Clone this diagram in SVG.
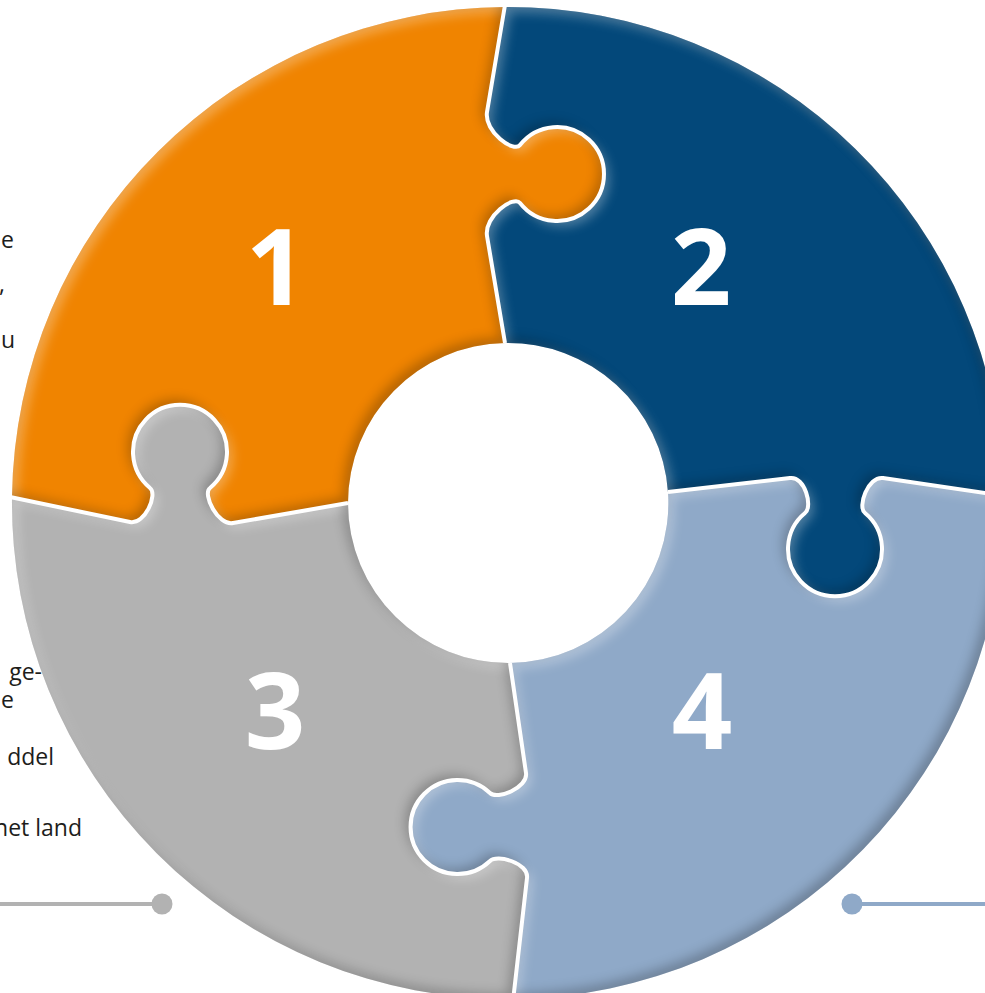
<svg xmlns="http://www.w3.org/2000/svg" width="985" height="993" viewBox="0 0 985 993">
<defs>
<style>
.num{font-family:"Open Sans","Liberation Sans",sans-serif;font-weight:700;font-size:106px;fill:#fff;text-anchor:middle}
.txt{font-family:"Open Sans","Liberation Sans",sans-serif;font-size:23px;fill:#1d1d1b;text-anchor:end}
.seam{fill:none;stroke:#fff;stroke-width:4;stroke-linejoin:round}
</style>
<filter id="bevel" x="-10%" y="-10%" width="120%" height="120%" color-interpolation-filters="sRGB">
<feGaussianBlur in="SourceAlpha" stdDeviation="6" result="blur"/>
<feOffset in="blur" dx="5" dy="5" result="o1"/>
<feComposite in="SourceAlpha" in2="o1" operator="out" result="hl"/>
<feFlood flood-color="#ffffff" flood-opacity="0.32"/>
<feComposite in2="hl" operator="in" result="hlc"/>
<feOffset in="blur" dx="-5" dy="-5" result="o2"/>
<feComposite in="SourceAlpha" in2="o2" operator="out" result="sh"/>
<feFlood flood-color="#000000" flood-opacity="0.24"/>
<feComposite in2="sh" operator="in" result="shc"/>
<feMerge><feMergeNode in="SourceGraphic"/><feMergeNode in="hlc"/><feMergeNode in="shc"/></feMerge>
</filter>
</defs>
<rect width="985" height="993" fill="#fff"/>

<g id="piece1">
<path filter="url(#bevel)" fill="#F08400" d="M12,497 A496,496 0 0 1 505,7 L487,112 C484,132 514,153 520,145 A47,47 0 1 1 520,203 C514,195 484,216 487,236 L505,343 A160,160 0 0 0 348,503 L233,523 C218,526 202,494 210,488 A47,47 0 1 0 150,488 C158,494 145,525 130,522 Z"/>
<text class="num" x="276" y="305">1</text>
</g>
<g id="piece2">
<path filter="url(#bevel)" fill="#03487A" d="M505,7 A496,496 0 0 1 1004,496 L883,478 C868,476 857,507 865,513 A47,47 0 1 1 805,513 C813,507 805,476 790,478 L668,492 A160,160 0 0 0 505,343 L487,236 C484,216 514,195 520,203 A47,47 0 1 0 520,145 C514,153 484,132 487,112 Z"/>
<text class="num" x="701" y="305">2</text>
</g>
<g id="piece4">
<path filter="url(#bevel)" fill="#8FA9C8" d="M1004,496 A496,496 0 0 1 513,999 L527,878 C529,863 497,854 490,861 A47,47 0 1 1 490,793 C497,800 528,788 526,773 L510,663 A160,160 0 0 0 668,492 L790,478 C805,476 813,507 805,513 A47,47 0 1 0 865,513 C857,507 868,476 883,478 Z"/>
<text class="num" x="702" y="749">4</text>
</g>
<g id="piece3">
<path filter="url(#bevel)" fill="#B2B2B2" d="M513,999 A496,496 0 0 1 12,497 L130,522 C145,525 158,494 150,488 A47,47 0 1 1 210,488 C202,494 218,526 233,523 L348,503 A160,160 0 0 0 510,663 L526,773 C528,788 497,800 490,793 A47,47 0 1 0 490,861 C497,854 529,863 527,878 Z"/>
<text class="num" x="275" y="749">3</text>
</g>

<g id="seams">
<path class="seam" d="M505,5 L487,112 C484,132 514,153 520,145 A47,47 0 1 1 520,203 C514,195 484,216 487,236 L505,343"/>
<path class="seam" d="M10,497 L130,522 C145,525 158,494 150,488 A47,47 0 1 1 210,488 C202,494 218,526 233,523 L348,503"/>
<path class="seam" d="M668,492 L790,478 C805,476 813,507 805,513 A47,47 0 1 0 865,513 C857,507 868,476 883,478 L1006,496"/>
<path class="seam" d="M510,663 L526,773 C528,788 497,800 490,793 A47,47 0 1 0 490,861 C497,854 529,863 527,878 L513,1001"/>
</g>

<g id="connectors">
<line x1="0" y1="904" x2="162" y2="904" stroke="#B2B2B2" stroke-width="4"/>
<circle cx="162" cy="904" r="10.5" fill="#B2B2B2"/>
<line x1="852" y1="904" x2="985" y2="904" stroke="#8FA9C8" stroke-width="4"/>
<circle cx="852" cy="904" r="10.5" fill="#8FA9C8"/>
</g>

<g id="text-left-top">
<text class="txt" x="14" y="248">e</text>
<text class="txt" x="5" y="292">,</text>
<text class="txt" x="15" y="348">u</text>
</g>
<g id="text-left-bottom">
<text class="txt" x="42" y="680">ge-</text>
<text class="txt" x="14" y="708">e</text>
<text class="txt" x="54" y="765">ddel</text>
<text class="txt" x="82" y="836">net land</text>
</g>
</svg>
